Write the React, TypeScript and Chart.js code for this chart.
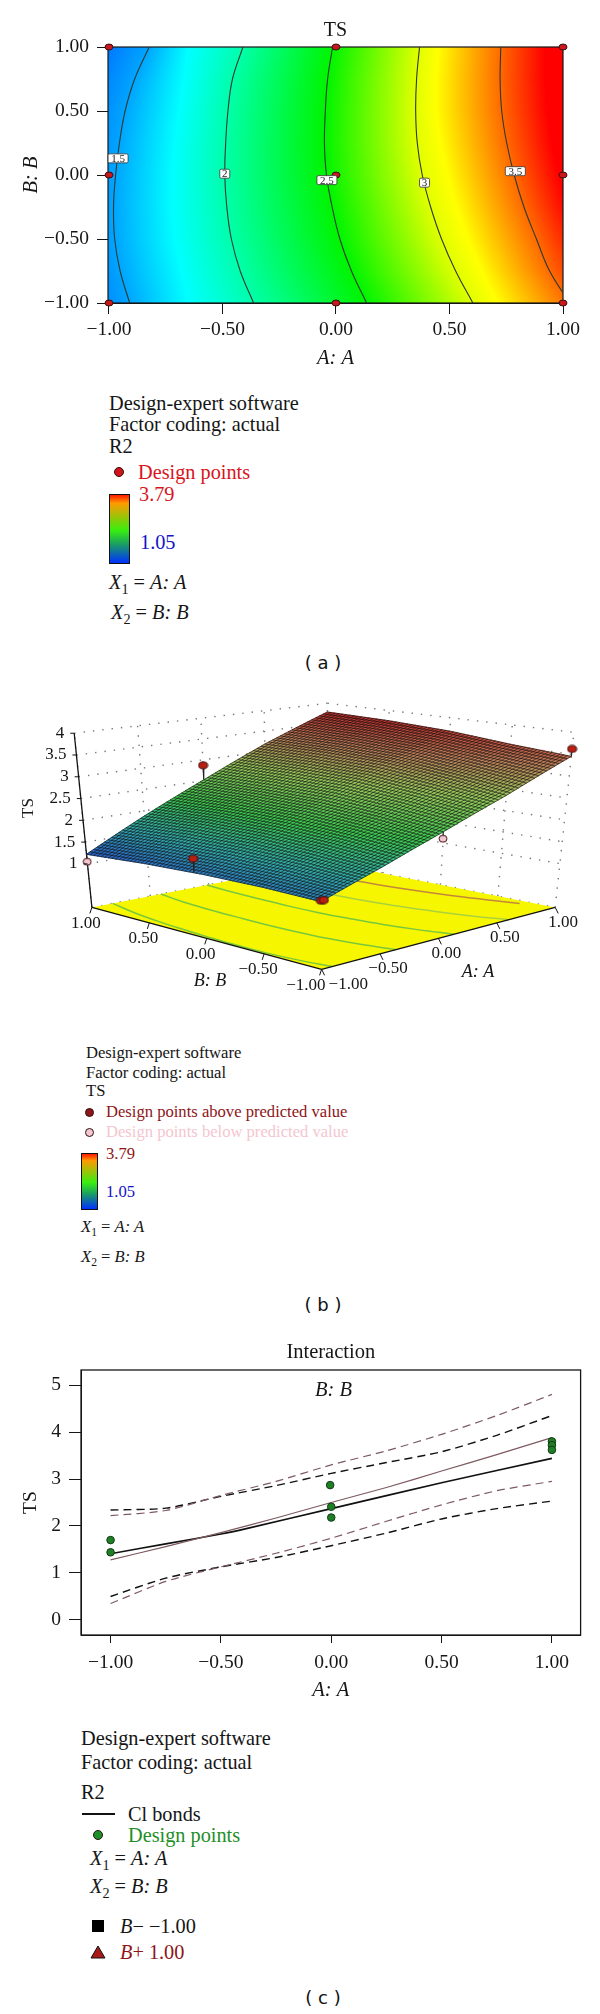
import React, { useEffect, useRef } from "react";
import { Chart, registerables } from "chart.js";

Chart.register(...registerables);

const SERIF = "'Liberation Serif', serif";
const INK = "#161616";

/* ---------- (a) contour plot ---------- */
const rowB = [1, 0.75, 0.5, 0.25, 0, -0.25, -0.5, -0.75, -1];
const contour15 = [-0.823, -0.887, -0.929, -0.954, -0.971, -0.98, -0.975, -0.951, -0.909];
const contour20 = [-0.41, -0.456, -0.476, -0.486, -0.49, -0.481, -0.461, -0.422, -0.363];
const contour25 = [-0.015, -0.037, -0.047, -0.051, -0.042, -0.017, 0.017, 0.068, 0.135];
const contour30 = [0.368, 0.355, 0.351, 0.358, 0.38, 0.417, 0.465, 0.527, 0.603];
const contour35 = [0.726, 0.723, 0.73, 0.752, 0.785, 0.828, 0.883, 0.941, 1.03];
const blueBand = [-1.25, -1.3, -1.35, -1.38, -1.4, -1.4, -1.4, -1.38, -1.35];
const cyanBand = [-0.65, -0.67, -0.69, -0.71, -0.72, -0.72, -0.71, -0.68, -0.65];
const yellowBand = [0.45, 0.44, 0.44, 0.46, 0.49, 0.53, 0.58, 0.64, 0.71];
const redBand = [0.92, 0.92, 0.93, 0.95, 0.98, 1.02, 1.08, 1.15, 1.22];
const designA = [-1, 0, 1, -1, 0, 1, -1, 0, 1];
const designB = [1, 1, 1, 0, 0, 0, -1, -1, -1];
const contourLabels = ["1.5", "2", "2.5", "3", "3.5"];
const contourLabelA = [-0.96, -0.49, -0.04, 0.39, 0.79];
const contourLabelB = [0.13, 0.01, -0.04, -0.06, 0.03];
const axisTicks = [-1, -0.5, 0, 0.5, 1];

/* ---------- (b) response surface ---------- */
const gridA = [-1, -0.5, 0, 0.5, 1];
const gridB = [1, 0.5, 0, -0.5, -1];
const tsAtBp100 = [1.22, 1.88, 2.52, 3.18, 3.78];
const tsAtBp050 = [1.33, 1.97, 2.55, 3.2, 3.75];
const tsAtB000 = [1.4, 1.99, 2.55, 3.17, 3.68];
const tsAtBm050 = [1.43, 1.95, 2.47, 3.03, 3.55];
const tsAtBm100 = [1.42, 1.85, 2.33, 2.85, 3.45];
const zTicks = [1, 1.5, 2, 2.5, 3, 3.5, 4];
const aboveA = [0, -1, -1, -0.975, 1];
const aboveB = [1, 0.08, -1, -1, -1];
const aboveTS = [2.87, 1.7, 1.44, 1.44, 3.62];
const belowA = [-1, 0];
const belowB = [1, -1];
const belowTS = [1.05, 2.18];

/* ---------- (c) interaction plot ---------- */
const lineA = [-1, -0.75, -0.5, -0.38, 0, 0.5, 1];
const bMinusTS = [1.41, 1.62, 1.83, 1.95, 2.37, 2.92, 3.44];
const bandA = [-1, -0.75, -0.5, -0.25, 0, 0.25, 0.5, 0.75, 1];
const bPlusTS = [1.28, 1.56, 1.86, 2.17, 2.5, 2.82, 3.17, 3.52, 3.88];
const bMinusUpper = [2.34, 2.38, 2.63, 2.86, 3.12, 3.35, 3.58, 3.93, 4.35];
const bMinusLower = [0.5, 0.89, 1.13, 1.33, 1.58, 1.85, 2.15, 2.37, 2.53];
const bPlusUpper = [2.22, 2.33, 2.65, 2.95, 3.3, 3.6, 3.95, 4.35, 4.8];
const bPlusLower = [0.35, 0.82, 1.13, 1.42, 1.74, 2.1, 2.45, 2.75, 2.95];
const pointsA = [-1, -1, -0.005, 0, 0, 1, 1, 1];
const pointsTS = [1.7, 1.44, 2.87, 2.41, 2.18, 3.8, 3.72, 3.62];
const tsTicks = [0, 1, 2, 3, 4, 5];

const fmt = (v: number) => v.toFixed(2).replace("-", "\u2212");

function ellipseSprite(fill: string, w: number, h: number) {
  const c = document.createElement("canvas");
  c.width = w + 2;
  c.height = h + 2;
  const g = c.getContext("2d")!;
  g.beginPath();
  g.ellipse(w / 2 + 1, h / 2 + 1, w / 2, h / 2, 0, 0, Math.PI * 2);
  g.fillStyle = fill;
  g.fill();
  g.lineWidth = 1;
  g.strokeStyle = "#3a1010";
  g.stroke();
  return c;
}

/* ---- chart a ---- */
function makeContour(canvas: HTMLCanvasElement) {
  const bands: [number[], string][] = [
    [blueBand, "rgb(0,60,255)"],
    [contour15, "rgb(0,165,255)"],
    [cyanBand, "rgb(0,255,255)"],
    [contour20, "rgb(0,255,170)"],
    [contour25, "rgb(0,245,0)"],
    [contour30, "rgb(225,255,0)"],
    [yellowBand, "rgb(255,255,0)"],
    [contour35, "rgb(255,105,0)"],
    [redBand, "rgb(255,0,0)"],
  ];
  const field = {
    id: "field",
    beforeDatasetsDraw(chart: any) {
      const { ctx, chartArea: a, scales } = chart;
      const L = scales.x.getPixelForValue(-1.6);
      const R = scales.x.getPixelForValue(1.6);
      ctx.save();
      for (let y = Math.floor(a.top); y < Math.ceil(a.bottom); y++) {
        const b = Math.max(-1, Math.min(1, scales.y.getValueForPixel(y + 0.5)));
        const pos = (1 - b) / 0.25;
        const i = Math.min(rowB.length - 2, Math.floor(pos));
        const f = pos - i;
        const g = ctx.createLinearGradient(L, 0, R, 0);
        bands.forEach(([arr, col]) => {
          const A = arr[i] + (arr[i + 1] - arr[i]) * f;
          g.addColorStop((A + 1.6) / 3.2, col);
        });
        ctx.fillStyle = g;
        ctx.fillRect(a.left, y, a.right - a.left, 1);
      }
      ctx.lineWidth = 1.2;
      ctx.strokeStyle = INK;
      ctx.strokeRect(a.left, a.top, a.right - a.left, a.bottom - a.top);
      ctx.restore();
    },
    afterDatasetsDraw(chart: any) {
      const { ctx, scales } = chart;
      ctx.save();
      ctx.font = `11px ${SERIF}`;
      ctx.textAlign = "center";
      ctx.textBaseline = "middle";
      contourLabels.forEach((t, i) => {
        const x = scales.x.getPixelForValue(contourLabelA[i]);
        const y = scales.y.getPixelForValue(contourLabelB[i]);
        const w = t.length > 1 ? 20 : 10;
        ctx.beginPath();
        ctx.roundRect(x - w / 2, y - 4.5, w, 9, 1.5);
        ctx.fillStyle = "#fff";
        ctx.fill();
        ctx.strokeStyle = "#333";
        ctx.lineWidth = 0.8;
        ctx.stroke();
        ctx.fillStyle = "#222";
        ctx.fillText(t, x, y + 0.5);
      });
      ctx.restore();
    },
  };
  const contourSet = (label: string, arr: number[]) => ({
    label,
    data: arr.map((A, i) => ({ x: A, y: rowB[i] })),
    showLine: true,
    tension: 0.4,
    borderColor: "#2c3a30",
    borderWidth: 1.1,
    pointRadius: 0,
    order: 5,
  });
  return new Chart(canvas, {
    type: "scatter",
    data: {
      datasets: [
        contourSet("TS 1.5", contour15),
        contourSet("TS 2", contour20),
        contourSet("TS 2.5", contour25),
        contourSet("TS 3", contour30),
        contourSet("TS 3.5", contour35),
        {
          label: "Design points",
          data: designA.map((A, i) => ({ x: A, y: designB[i] })),
          pointStyle: ellipseSprite("#c8181c", 8, 6),
          pointRadius: 4,
          clip: false,
          order: 1,
        },
      ],
    },
    plugins: [field],
    options: {
      animation: false,
      responsive: false,
      devicePixelRatio: 1,
      layout: { padding: { right: 37 } },
      plugins: {
        legend: { display: false },
        tooltip: { enabled: false },
        title: {
          display: true,
          text: "TS",
          color: INK,
          fullSize: false,
          font: { family: SERIF, size: 20, weight: "normal" },
          padding: { top: 18.5, bottom: 4.5 },
        },
      },
      scales: {
        x: {
          min: -1.0044,
          max: 1,
          afterBuildTicks: (s: any) => { s.ticks = axisTicks.map((value) => ({ value })); },
          afterFit: (s: any) => { s.height = 77; },
          grid: { drawOnChartArea: false, tickLength: 11, tickColor: INK },
          border: { color: INK },
          ticks: { callback: (v: any) => fmt(+v), color: INK, font: { family: SERIF, size: 19.5 }, padding: 4, autoSkip: false, maxRotation: 0 },
          title: { display: true, text: "A: A", color: INK, font: { family: SERIF, size: 20.5, style: "italic" }, padding: { bottom: 9 } },
        },
        y: {
          min: -1,
          max: 1,
          afterBuildTicks: (s: any) => { s.ticks = axisTicks.map((value) => ({ value })); },
          afterFit: (s: any) => { s.width = 108; },
          grid: { drawOnChartArea: false, tickLength: 11, tickColor: INK },
          border: { color: INK },
          ticks: { callback: (v: any) => fmt(+v), color: INK, font: { family: SERIF, size: 19.5 }, padding: 8, autoSkip: false },
          title: { display: true, text: "B: B", color: INK, font: { family: SERIF, size: 20.5, style: "italic" }, padding: { top: 19 } },
        },
      },
    } as any,
  });
}

/* ---- chart b ---- */
const floorL = [88, 219], floorF = [322, 283], floorR = [560, 219], floorK = [326, 172];
const topL = [70, 39], topF = [320, 86], topR = [579, 38], topK = [328, 8];
function proj(A: number, B: number, z: number) {
  const u = (A + 1) / 2, v = (1 - B) / 2, t = z / 4;
  const bil = (i: number, p: number[], q: number[], r: number[], s: number[]) =>
    (1 - u) * (1 - v) * p[i] + (1 - u) * v * q[i] + u * v * r[i] + u * (1 - v) * s[i];
  const fx = bil(0, floorL, floorF, floorR, floorK), fy = bil(1, floorL, floorF, floorR, floorK);
  const tx = bil(0, topL, topF, topR, topK), ty = bil(1, topL, topF, topR, topK);
  return { x: fx + (tx - fx) * t, y: fy + (ty - fy) * t };
}
const tsRows = [tsAtBp100, tsAtBp050, tsAtB000, tsAtBm050, tsAtBm100];
function surfaceTS(A: number, B: number) {
  const pa = Math.min(3.999, (A + 1) / 0.5), pb = Math.min(3.999, (1 - B) / 0.5);
  const i = Math.floor(pa), j = Math.floor(pb), fa = pa - i, fb = pb - j;
  const r0 = tsRows[j][i] + (tsRows[j][i + 1] - tsRows[j][i]) * fa;
  const r1 = tsRows[j + 1][i] + (tsRows[j + 1][i + 1] - tsRows[j + 1][i]) * fa;
  return r0 + (r1 - r0) * fb;
}
const ramp: [number, number[]][] = [
  [1.2, [40, 90, 200]],
  [1.7, [50, 170, 170]],
  [2.2, [60, 200, 80]],
  [2.8, [150, 200, 90]],
  [3.3, [190, 130, 90]],
  [3.8, [190, 40, 40]],
];
function rampColor(z: number) {
  let k = 0;
  while (k < ramp.length - 2 && z > ramp[k + 1][0]) k++;
  const [z0, c0] = ramp[k], [z1, c1] = ramp[k + 1];
  const f = Math.max(0, Math.min(1, (z - z0) / (z1 - z0)));
  return `rgb(${c0.map((c, i) => Math.round(c + (c1[i] - c) * f)).join(",")})`;
}

function makeSurface(canvas: HTMLCanvasElement) {
  const N = 64;
  const dotted = (label: string, from: any, to: any) => ({
    label, data: [from, to], showLine: true, borderColor: "#777", borderWidth: 1.4,
    borderDash: [1.4, 8], pointRadius: 0, order: 50,
  });
  const walls: any[] = [];
  [0, 1, 1.5, 2, 2.5, 3, 3.5, 4].forEach((z) => {
    walls.push(dotted(`left wall ${z}`, proj(-1, 1, z), proj(1, 1, z)));
    walls.push(dotted(`right wall ${z}`, proj(1, 1, z), proj(1, -1, z)));
  });
  gridA.forEach((A) => walls.push(dotted(`left wall A ${A}`, proj(A, 1, 0), proj(A, 1, 4))));
  gridB.forEach((B) => walls.push(dotted(`right wall B ${B}`, proj(1, B, 0), proj(1, B, 4))));

  const floorLine = (label: string, arr: number[], color: string) => ({
    label,
    data: arr.map((A, i) => ({ A, B: rowB[i] })).filter((p) => p.A <= 1).map((p) => proj(p.A, p.B, 0)),
    showLine: true, tension: 0.4, borderColor: color, borderWidth: 1.5, pointRadius: 0, order: 30,
  });
  const axisLine = (label: string, a: any, b: any) => ({
    label, data: [a, b], showLine: true, borderColor: "#111", borderWidth: 1.3, pointRadius: 0, order: 20,
  });
  const stem = (label: string, A: number, B: number, z: number) => ({
    label, data: [proj(A, B, z), proj(A, B, surfaceTS(A, B))], showLine: true,
    borderColor: "#222", borderWidth: 1.2, pointRadius: 0, order: 5,
  });
  const painter = {
    id: "painter",
    beforeDatasetDraw(chart: any, args: any) {
      const label = chart.data.datasets[args.index].label;
      const { ctx, scales } = chart;
      const P = (p: any) => [scales.x.getPixelForValue(p.x), scales.y.getPixelForValue(p.y)];
      if (label === "floor 3.5") {
        const c = [proj(-1, 1, 0), proj(-1, -1, 0), proj(1, -1, 0), proj(1, 1, 0)].map(P);
        ctx.save();
        ctx.beginPath();
        c.forEach(([x, y], i) => (i ? ctx.lineTo(x, y) : ctx.moveTo(x, y)));
        ctx.closePath();
        ctx.fillStyle = "#f6f600";
        ctx.fill();
        ctx.restore();
      }
      if (label === "stem below 1") {
        ctx.save();
        const at = (i: number, j: number) => {
          const A = -1 + (2 * i) / N, B = 1 - (2 * j) / N;
          return P(proj(A, B, surfaceTS(A, B)));
        };
        for (let j = 0; j < N; j++) {
          for (let i = 0; i < N; i++) {
            const A = -1 + (2 * (i + 0.5)) / N, B = 1 - (2 * (j + 0.5)) / N;
            const col = rampColor(surfaceTS(A, B));
            const q = [at(i, j), at(i + 1, j), at(i + 1, j + 1), at(i, j + 1)];
            ctx.beginPath();
            q.forEach(([x, y], k) => (k ? ctx.lineTo(x, y) : ctx.moveTo(x, y)));
            ctx.closePath();
            ctx.fillStyle = col;
            ctx.strokeStyle = col;
            ctx.lineWidth = 0.6;
            ctx.fill();
            ctx.stroke();
          }
        }
        ctx.strokeStyle = "rgba(8,8,8,0.72)";
        ctx.lineWidth = 0.85;
        for (let k = 0; k <= N; k++) {
          ctx.beginPath();
          for (let m = 0; m <= N; m++) {
            const [x, y] = at(k, m);
            m ? ctx.lineTo(x, y) : ctx.moveTo(x, y);
          }
          ctx.stroke();
          ctx.beginPath();
          for (let m = 0; m <= N; m++) {
            const [x, y] = at(m, k);
            m ? ctx.lineTo(x, y) : ctx.moveTo(x, y);
          }
          ctx.stroke();
        }
        ctx.restore();
      }
    },
    afterDatasetsDraw(chart: any) {
      const { ctx, scales } = chart;
      const P = (p: any) => [scales.x.getPixelForValue(p.x), scales.y.getPixelForValue(p.y)];
      ctx.save();
      ctx.fillStyle = INK;
      ctx.strokeStyle = "#111";
      ctx.lineWidth = 1;
      ctx.font = `17px ${SERIF}`;
      ctx.textBaseline = "middle";
      ctx.textAlign = "right";
      zTicks.forEach((z) => {
        const [x, y] = P(proj(-1, 1, z));
        ctx.fillText(z === Math.round(z) ? String(z) : z.toFixed(1), x - 10, y);
        ctx.beginPath();
        ctx.moveTo(x, y);
        ctx.lineTo(x - 4, y);
        ctx.stroke();
      });
      axisTicks.forEach((B) => {
        const [x, y] = P(proj(-1, B, 0));
        ctx.beginPath();
        ctx.moveTo(x, y);
        ctx.lineTo(x - 2, y + 6);
        ctx.stroke();
        ctx.textAlign = B === -1 ? "right" : "center";
        ctx.fillText(fmt(B), B === -1 ? x + 4 : x - 6, y + 16);
      });
      axisTicks.forEach((A) => {
        const [x, y] = P(proj(A, -1, 0));
        ctx.beginPath();
        ctx.moveTo(x, y);
        ctx.lineTo(x + 3, y + 6);
        ctx.stroke();
        ctx.textAlign = A === -1 ? "left" : "center";
        ctx.fillText(fmt(A), A === -1 ? x + 7 : x + 8, y + 15);
      });
      ctx.textAlign = "center";
      ctx.font = `italic 18px ${SERIF}`;
      ctx.fillText("B: B", 210, 291);
      ctx.fillText("A: A", 478, 282);
      ctx.save();
      ctx.translate(29, 118);
      ctx.rotate(-Math.PI / 2);
      ctx.font = `17px ${SERIF}`;
      ctx.fillText("TS", 0, 0);
      ctx.restore();
      ctx.restore();
    },
  };
  return new Chart(canvas, {
    type: "scatter",
    data: {
      datasets: [
        ...walls,
        floorLine("floor 1.5", contour15, "rgb(120,200,60)"),
        floorLine("floor 2", contour20, "rgb(120,200,60)"),
        floorLine("floor 2.5", contour25, "rgb(120,200,60)"),
        floorLine("floor 3", contour30, "rgb(170,210,60)"),
        floorLine("floor 3.5", contour35, "rgb(195,135,60)"),
        axisLine("B axis", proj(-1, 1, 0), proj(-1, -1, 0)),
        axisLine("A axis", proj(-1, -1, 0), proj(1, -1, 0)),
        axisLine("TS axis", proj(-1, 1, 0), proj(-1, 1, 4)),
        ...aboveA.map((A, i) => stem(`stem ${i}`, A, aboveB[i], aboveTS[i])),
        ...belowA.map((A, i) => stem(`stem below ${i}`, A, belowB[i], belowTS[i])),
        {
          label: "Design points above predicted value",
          data: aboveA.map((A, i) => proj(A, aboveB[i], aboveTS[i])),
          pointStyle: ellipseSprite("#b81f10", 9, 7),
          pointRadius: 4.5,
          clip: false,
          order: 1,
        },
        {
          label: "Design points below predicted value",
          data: belowA.map((A, i) => proj(A, belowB[i], belowTS[i])),
          pointStyle: ellipseSprite("#f4c6cf", 8, 7),
          pointRadius: 4.5,
          clip: false,
          order: 1,
        },
      ],
    },
    plugins: [painter],
    options: {
      animation: false,
      responsive: false,
      devicePixelRatio: 1,
      plugins: { legend: { display: false }, tooltip: { enabled: false } },
      scales: {
        x: { display: false, min: 0, max: 600 },
        y: { display: false, min: 0, max: 340, reverse: true },
      },
    } as any,
  });
}

/* ---- chart c ---- */
function makeInteraction(canvas: HTMLCanvasElement) {
  const BROWN = "#7d5a60";
  const lineSet = (label: string, xs: number[], ys: number[], color: string, width: number, dash?: number[]) => ({
    label,
    data: xs.map((x, i) => ({ x, y: ys[i] })),
    showLine: true,
    tension: 0.25,
    borderColor: color,
    borderWidth: width,
    borderDash: dash || [],
    pointRadius: 0,
    order: 5,
  });
  const frame = {
    id: "frame",
    beforeDatasetsDraw(chart: any) {
      const { ctx, chartArea: a } = chart;
      ctx.save();
      ctx.lineWidth = 1.3;
      ctx.strokeStyle = INK;
      ctx.strokeRect(a.left, a.top, a.right - a.left, a.bottom - a.top);
      ctx.fillStyle = INK;
      ctx.font = `italic 20.5px ${SERIF}`;
      ctx.textAlign = "center";
      ctx.textBaseline = "middle";
      ctx.fillText("B: B", chart.scales.x.getPixelForValue(0.01), chart.scales.y.getPixelForValue(4.89));
      ctx.restore();
    },
  };
  return new Chart(canvas, {
    type: "scatter",
    data: {
      datasets: [
        lineSet("B+ upper", bandA, bPlusUpper, BROWN, 1.2, [8, 5]),
        lineSet("B+ lower", bandA, bPlusLower, BROWN, 1.2, [8, 5]),
        lineSet("B+ 1.00", bandA, bPlusTS, BROWN, 1.2),
        lineSet("B\u2212 upper", bandA, bMinusUpper, "#111", 1.4, [8, 5]),
        lineSet("B\u2212 lower", bandA, bMinusLower, "#111", 1.4, [8, 5]),
        lineSet("B\u2212 \u22121.00", lineA, bMinusTS, "#111", 1.7),
        {
          label: "Design points",
          data: pointsA.map((x, i) => ({ x, y: pointsTS[i] })),
          pointStyle: "circle",
          pointRadius: 3.8,
          backgroundColor: "#1f7f25",
          borderColor: "#123a14",
          borderWidth: 1,
          order: 1,
        },
      ],
    },
    plugins: [frame],
    options: {
      animation: false,
      responsive: false,
      devicePixelRatio: 1,
      layout: { padding: { right: 19.4 } },
      plugins: {
        legend: { display: false },
        tooltip: { enabled: false },
        title: {
          display: true,
          text: "Interaction",
          color: INK,
          fullSize: false,
          font: { family: SERIF, size: 20.5, weight: "normal" },
          padding: { top: 10, bottom: 5.4 },
        },
      },
      scales: {
        x: {
          min: -1.134,
          max: 1.13,
          afterBuildTicks: (s: any) => { s.ticks = axisTicks.map((value) => ({ value })); },
          afterFit: (s: any) => { s.height = 75; },
          grid: { drawOnChartArea: false, tickLength: 8, tickColor: INK },
          border: { color: INK },
          ticks: { callback: (v: any) => fmt(+v), color: INK, font: { family: SERIF, size: 19.5 }, padding: 8, autoSkip: false, maxRotation: 0 },
          title: { display: true, text: "A: A", color: INK, font: { family: SERIF, size: 20.5, style: "italic" }, padding: { bottom: 7 } },
        },
        y: {
          min: -0.32,
          max: 5.32,
          afterBuildTicks: (s: any) => { s.ticks = tsTicks.map((value) => ({ value })); },
          afterFit: (s: any) => { s.width = 81; },
          grid: { drawOnChartArea: false, tickLength: 12, tickColor: INK },
          border: { color: INK },
          ticks: { color: INK, font: { family: SERIF, size: 19.5 }, padding: 8, autoSkip: false },
          title: { display: true, text: "TS", color: INK, font: { family: SERIF, size: 19.5 }, padding: { top: 19 } },
        },
      },
    } as any,
  });
}

/* ---------- legends ---------- */
const T = ({ x, y, s, c = INK, i = false, children }: any) => (
  <div style={{ position: "absolute", left: x, top: y - 15, height: 30, lineHeight: "30px", fontFamily: SERIF, fontSize: s, color: c, fontStyle: i ? "italic" : "normal", whiteSpace: "nowrap" }}>
    {children}
  </div>
);
const Dot = ({ x, y, d, c }: any) => (
  <div style={{ position: "absolute", left: x - d / 2, top: y - d / 2, width: d, height: d, boxSizing: "border-box", borderRadius: "50%", background: c, border: "1px solid #301010" }} />
);
const Bar = ({ x, y, w, h }: any) => (
  <div style={{ position: "absolute", left: x, top: y, width: w, height: h, boxSizing: "border-box", border: "1px solid #111", background: "linear-gradient(to bottom,#ff1a00 0%,#ff9a00 12%,#38ee10 52%,#1aa060 72%,#0030ff 100%)" }} />
);
const Panel = ({ y, t }: any) => (
  <div style={{ position: "absolute", left: 223, width: 200, top: y - 12, lineHeight: "24px", textAlign: "center", fontFamily: "'DejaVu Sans', sans-serif", fontSize: 18, color: "#111", whiteSpace: "pre" }}>{`( ${t} )`}</div>
);
const Xn = ({ n, v }: any) => (
  <>
    <i>X</i>
    <sub style={{ fontSize: "0.7em", verticalAlign: "-0.35em", lineHeight: 0 }}>{n}</sub>
    {" = "}
    <i>{`${v}: ${v}`}</i>
  </>
);

export default function App() {
  const a = useRef<HTMLCanvasElement>(null);
  const b = useRef<HTMLCanvasElement>(null);
  const c = useRef<HTMLCanvasElement>(null);
  useEffect(() => {
    document.body.style.margin = "0";
    const charts = [makeContour(a.current!), makeSurface(b.current!), makeInteraction(c.current!)];
    return () => charts.forEach((ch) => ch.destroy());
  }, []);
  const place = (top: number): React.CSSProperties => ({ position: "absolute", left: 0, top });
  return (
    <div style={{ position: "absolute", left: 0, top: 0, width: 600, height: 2014, background: "#fff", overflow: "hidden" }}>
      <canvas ref={a} width={600} height={380} style={place(0)} />
      <canvas ref={b} width={600} height={340} style={place(690)} />
      <canvas ref={c} width={600} height={380} style={place(1330)} />

      <T x={109} y={403} s={20.3}>Design-expert software</T>
      <T x={109} y={424} s={20.3}>Factor coding: actual</T>
      <T x={109} y={446} s={20.3}>R2</T>
      <Dot x={119} y={472} d={10} c="#d0141c" />
      <T x={138} y={472} s={20.3} c="#d8141c">Design points</T>
      <Bar x={109} y={494} w={21} h={70} />
      <T x={139} y={494} s={20.3} c="#d8141c">3.79</T>
      <T x={140} y={542} s={20.3} c="#1414c8">1.05</T>
      <T x={109} y={582} s={20.3}><Xn n="1" v="A" /></T>
      <T x={111} y={612} s={20.3}><Xn n="2" v="B" /></T>
      <Panel y={663} t="a" />

      <T x={86} y={1053} s={16.6}>Design-expert software</T>
      <T x={86} y={1073} s={16.6}>Factor coding: actual</T>
      <T x={86} y={1091} s={16.6}>TS</T>
      <Dot x={89} y={1112} d={9} c="#8e1518" />
      <T x={106} y={1112} s={16.6} c="#8e1518">Design points above predicted value</T>
      <Dot x={89} y={1132} d={9} c="#f4c6cf" />
      <T x={106} y={1132} s={16.6} c="#f4c6cf">Design points below predicted value</T>
      <Bar x={81} y={1153} w={17} h={57} />
      <T x={106} y={1154} s={16.6} c="#8e1518">3.79</T>
      <T x={106} y={1192} s={16.6} c="#1414c8">1.05</T>
      <T x={81} y={1227} s={16.6}><Xn n="1" v="A" /></T>
      <T x={81} y={1257} s={16.6}><Xn n="2" v="B" /></T>
      <Panel y={1305} t="b" />

      <T x={81} y={1738} s={20.3}>Design-expert software</T>
      <T x={81} y={1762} s={20.3}>Factor coding: actual</T>
      <T x={81} y={1792} s={20.3}>R2</T>
      <div style={{ position: "absolute", left: 82, top: 1813, width: 33, height: 2, background: "#111" }} />
      <T x={128} y={1814} s={20.3}>Cl bonds</T>
      <Dot x={98} y={1835} d={10} c="#1f8f28" />
      <T x={128} y={1835} s={20.3} c="#1f8f28">Design points</T>
      <T x={90} y={1858} s={20.3}><Xn n="1" v="A" /></T>
      <T x={90} y={1886} s={20.3}><Xn n="2" v="B" /></T>
      <div style={{ position: "absolute", left: 92, top: 1920, width: 12, height: 12, background: "#000" }} />
      <T x={120} y={1926} s={20.3}><i>B</i>{"\u2212 \u22121.00"}</T>
      <svg style={{ position: "absolute", left: 90, top: 1945 }} width="16" height="14"><path d="M8 1 L15 13 L1 13 Z" fill="#a81a1a" stroke="#111" /></svg>
      <T x={120} y={1952} s={20.3} c="#8e1518"><i>B</i>+ 1.00</T>
      <Panel y={1998} t="c" />
    </div>
  );
}
